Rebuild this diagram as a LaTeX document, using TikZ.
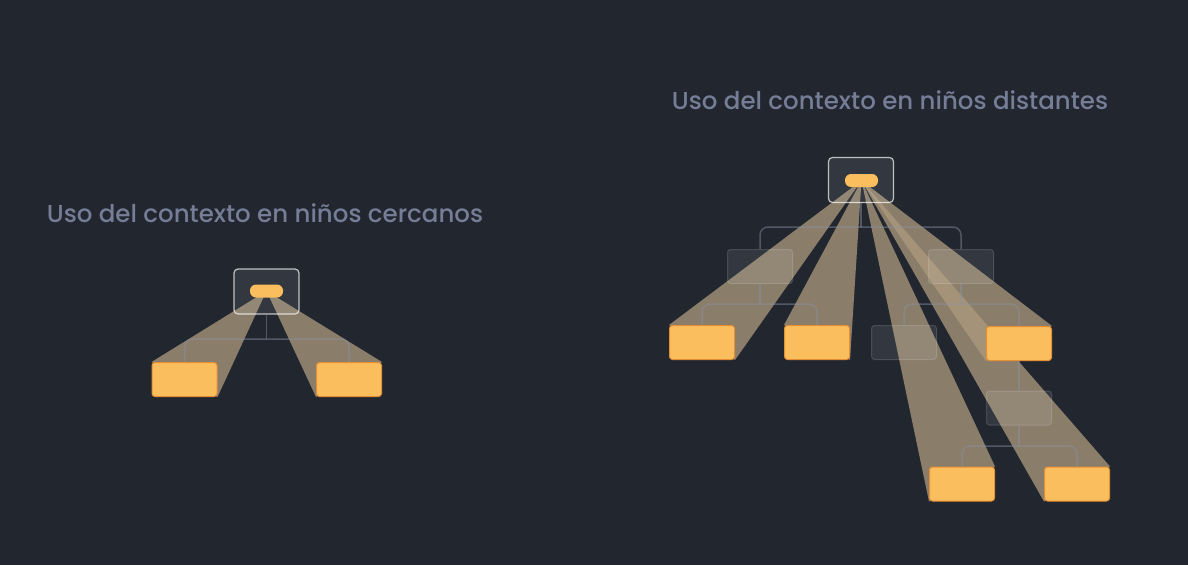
\documentclass[tikz,border=0pt]{standalone}
\usepackage{fontspec}
\setmainfont{Poppins}
\newfontfamily\headfont{Poppins Medium}
\definecolor{bg}{HTML}{22262F}
\definecolor{leafcol}{HTML}{FBBE5E}
\definecolor{leafedge}{HTML}{E58F35}
\definecolor{wirecol}{HTML}{8A93A8}
\definecolor{beamcol}{HTML}{AE9B7E}
\definecolor{titlecol}{HTML}{757D97}
\pgfdeclarelayer{back}
\pgfdeclarelayer{beams}
\pgfdeclarelayer{wires}
\pgfsetlayers{back,beams,wires,main}

\begin{document}
\begin{tikzpicture}[x=1pt,y=-1pt,
	leaf/.style={rectangle, rounded corners=3pt, fill=leafcol, draw=leafedge, line width=1pt, minimum width=65pt, minimum height=34pt, inner sep=0pt},
	ghost/.style={rectangle, rounded corners=3pt, fill=white, fill opacity=0.08, draw=white, draw opacity=0.15, line width=1pt, minimum width=65pt, minimum height=34pt, inner sep=0pt},
	root/.style={rectangle, rounded corners=4pt, fill=white, fill opacity=0.08, draw=white, draw opacity=0.7, line width=1.2pt, minimum width=65pt, minimum height=45pt, inner sep=0pt},
	pill/.style={rectangle, rounded corners=6pt, fill=leafcol, minimum width=33pt, minimum height=13pt, inner sep=0pt},
	wire/.style={draw=wirecol, draw opacity=0.45, line width=1.5pt, rounded corners=8pt},
	beam/.style={fill=beamcol, fill opacity=0.75},
	heading/.style={anchor=base, text=titlecol, font=\headfont\fontsize{24.5}{28}\selectfont}]
	\begin{pgfonlayer}{back}
		\fill[bg] (0,0) rectangle (1188,565);
	\end{pgfonlayer}
	\useasboundingbox (0,0) rectangle (1188,565);

	% cercanos
	\node[heading] (titleA) at (265,222) {Uso del contexto en niños cercanos};
	\begin{pgfonlayer}{wires}
		\node[root] (rootA) at (266.5,291.5) {};
	\end{pgfonlayer}
	\node[pill] (pillA) at (266.5,291) {};
	\coordinate (forkA) at (266.5,339);
	\node[leaf] (leafA1) at (184.5,379.5) {};
	\node[leaf] (leafA2) at (349,379.5) {};

	% distantes
	\node[heading] (titleB) at (890,109) {Uso del contexto en niños distantes};
	\begin{pgfonlayer}{wires}
		\node[root] (rootB) at (861,180) {};
		\node[ghost] (ghostB1) at (760,266.5) {};
		\node[ghost] (ghostB2) at (961,266.5) {};
		\node[ghost] (ghostB3) at (904,342.5) {};
		\node[ghost] (ghostB4) at (1019,408) {};
	\end{pgfonlayer}
	\node[pill] (pillB) at (861.5,180.5) {};
	\coordinate (forkB) at (861,227);
	\coordinate (forkB1) at (760,304);
	\coordinate (forkB2) at (961,304);
	\coordinate (forkB4) at (1019,446);
	\node[leaf] (leafB1) at (702,342.5) {};
	\node[leaf] (leafB2) at (817,342.5) {};
	\node[leaf] (leafB3) at (1019,343.5) {};
	\node[leaf] (leafB4) at (962,484) {};
	\node[leaf] (leafB5) at (1077,484) {};

	\begin{pgfonlayer}{wires}
		\draw[wire] (rootA.south) -- (forkA);
		\draw[wire] (leafA1.north) |- (forkA) -| (leafA2.north);

		\draw[wire] (rootB.south) -- (forkB);
		\draw[wire] (ghostB1.north) |- (forkB) -| (ghostB2.north);
		\draw[wire] (ghostB1.south) -- (forkB1);
		\draw[wire] (leafB1.north) |- (forkB1) -| (leafB2.north);
		\draw[wire] (ghostB2.south) -- (forkB2);
		\draw[wire] (ghostB3.north) |- (forkB2) -| (leafB3.north);
		\draw[wire] (leafB3.south) -- (ghostB4.north);
		\draw[wire] (ghostB4.south) -- (forkB4);
		\draw[wire] (leafB4.north) |- (forkB4) -| (leafB5.north);
	\end{pgfonlayer}

	\begin{pgfonlayer}{beams}
		\fill[beam] (pillA.center) -- (leafA1.north west) -- (leafA1.south east) -- cycle;
		\fill[beam] (pillA.center) -- (leafA2.north east) -- (leafA2.south west) -- cycle;
		\foreach \n in {leafB1,leafB2}
			\fill[beam] (pillB.center) -- (\n.north west) -- (\n.south east) -- cycle;
		\foreach \n in {leafB3,leafB4,leafB5}
			\fill[beam] (pillB.center) -- (\n.north east) -- (\n.south west) -- cycle;
	\end{pgfonlayer}
\end{tikzpicture}
\end{document}
